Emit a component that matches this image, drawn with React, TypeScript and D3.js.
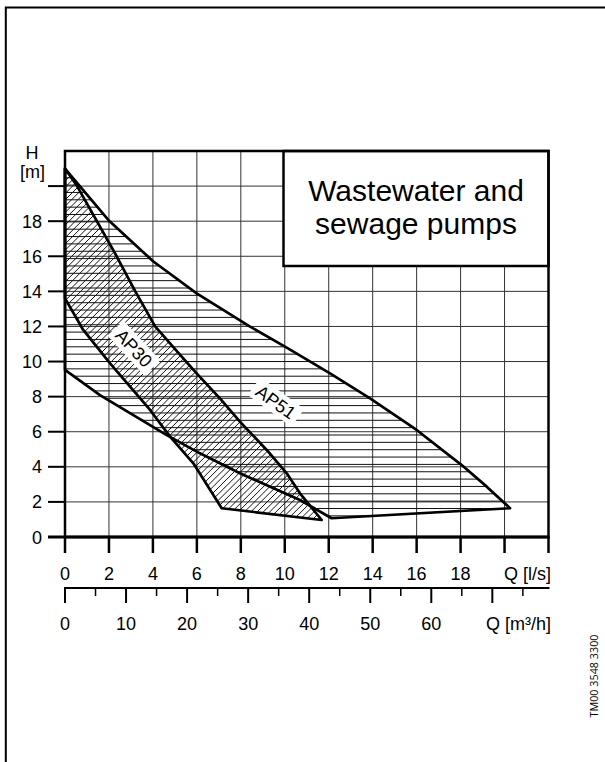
import React from "react";
import * as d3 from "d3";

// ---- data (Q in l/s, H in m) ----
const qTicks = [0, 2, 4, 6, 8, 10, 12, 14, 16, 18];
const qTickMarks = [0, 2, 4, 6, 8, 10, 12, 14, 16, 18, 20, 22];
const hTicks = [0, 2, 4, 6, 8, 10, 12, 14, 16, 18];
const hTickMarks = [0, 2, 4, 6, 8, 10, 12, 14, 16, 18, 20];
const m3hLabels = [0, 10, 20, 30, 40, 50, 60];
const m3hMajor = [0, 10, 20, 30, 40, 50, 60, 70];
const m3hMinor = [5, 15, 25, 35, 45, 55, 65, 75];
const gridQ = [2, 4, 6, 8, 10, 12, 14, 16, 18, 20];
const gridH = [2, 4, 6, 8, 10, 12, 14, 16, 18, 20];

const ap30Upper: [number, number][] = [
  [0, 21.0], [0.55, 20], [1.45, 18], [2.35, 16], [3.2, 14], [4.1, 12],
  [5.31, 10.28], [5.99, 9.33], [7.05, 7.9], [7.96, 6.57], [9.18, 4.96],
  [10.09, 3.63], [10.69, 2.49], [11.68, 0.97],
];
const ap30Lower: [number, number][] = [
  [0, 13.6], [0.83, 11.8], [1.44, 10.85], [2.05, 9.9], [3.87, 7.24],
  [4.78, 5.72], [5.84, 4.2], [7.13, 1.64],
];
const ap51Upper: [number, number][] = [
  [0, 21.0], [1.97, 18.07], [4.02, 15.7], [5.99, 13.89], [8.42, 11.99],
  [10.01, 10.85], [12.06, 9.33], [13.88, 7.9], [16.0, 6.1], [18.05, 4.1],
  [19.19, 2.87], [20.25, 1.64],
];
const ap51Lower: [number, number][] = [
  [0, 9.52], [1.59, 8.09], [4.63, 5.81], [6.14, 4.77], [7.96, 3.63],
  [10.69, 2.11], [12.13, 1.07],
];

const FONT = "'Liberation Sans', Arial, Helvetica, sans-serif";

export default function App() {
  const x = d3.scaleLinear().domain([0, 22]).range([65, 548.5]);
  const y = d3.scaleLinear().domain([0, 22]).range([537, 151]);
  const xm = d3.scaleLinear().domain([0, 79.2]).range([65, 548.5]);

  const line = d3
    .line<[number, number]>()
    .x((d) => x(d[0]))
    .y((d) => y(d[1]));

  const ap30Poly = [...ap30Upper, ...ap30Lower.slice().reverse()];
  const ap51Poly = [...ap51Upper, ...ap51Lower.slice().reverse()];
  const ap30Path = line(ap30Poly) + "Z";
  const ap51Path = line(ap51Poly) + "Z";

  const left = x(0), right = x(22), top = y(22), bottom = y(0);

  // horizontal hatch lines
  const hLines: number[] = [];
  for (let yy = 435 - 7.35 * 40; yy < bottom; yy += 7.35) {
    if (yy > top) hLines.push(yy);
  }
  // diagonal hatch lines "/"
  const dLines: number[] = [];
  for (let xx = left - 400; xx < right + 50; xx += 6.3) dLines.push(xx);

  return (
    <svg
      width={605}
      height={762}
      style={{ position: "absolute", left: 0, top: 0, background: "#fff" }}
      fontFamily={FONT}
    >
      <defs>
        <clipPath id="clip51">
          <path d={ap51Path} />
        </clipPath>
        <clipPath id="clip30">
          <path d={ap30Path} />
        </clipPath>
      </defs>

      {/* outer frame */}
      <path d="M5.8,762 L5.8,7.5 L605,7.5" fill="none" stroke="#000" strokeWidth={2} />

      {/* grid */}
      {gridQ.map((q) => (
        <line key={"gq" + q} x1={x(q)} x2={x(q)} y1={top} y2={bottom} stroke="#333" strokeWidth={1} />
      ))}
      {gridH.map((h) => (
        <line key={"gh" + h} x1={left} x2={right} y1={y(h)} y2={y(h)} stroke="#333" strokeWidth={1} />
      ))}

      {/* AP51 horizontal hatching */}
      <g clipPath="url(#clip51)">
        {hLines.map((yy, i) => (
          <line key={"h" + i} x1={left} x2={right} y1={yy} y2={yy} stroke="#111" strokeWidth={1} />
        ))}
      </g>
      {/* AP30 diagonal hatching */}
      <g clipPath="url(#clip30)">
        {dLines.map((xx, i) => (
          <line key={"d" + i} x1={xx} y1={bottom} x2={xx + (bottom - top)} y2={top} stroke="#111" strokeWidth={1} />
        ))}
      </g>

      {/* outlines */}
      <path d={ap51Path} fill="none" stroke="#000" strokeWidth={2.7} strokeLinejoin="round" />
      <path d={ap30Path} fill="none" stroke="#000" strokeWidth={2.7} strokeLinejoin="round" />

      {/* curve labels */}
      <g transform="translate(134,348) rotate(47)">
        <rect x={-27} y={-11} width={54} height={22} fill="#fff" />
        <text textAnchor="middle" y={6.5} fontSize={18}>AP30</text>
      </g>
      <g transform="translate(276,402) rotate(36)">
        <rect x={-27} y={-11} width={54} height={22} fill="#fff" />
        <text textAnchor="middle" y={6.5} fontSize={18}>AP51</text>
      </g>

      {/* title box */}
      <rect x={283.5} y={151} width={265} height={115} fill="#fff" stroke="#000" strokeWidth={2.5} />
      <text x={416} y={201} textAnchor="middle" fontSize={30}>Wastewater and</text>
      <text x={416} y={234} textAnchor="middle" fontSize={30}>sewage pumps</text>

      {/* plot frame */}
      <rect x={left} y={top} width={right - left} height={bottom - top} fill="none" stroke="#000" strokeWidth={2.5} />

      {/* y axis ticks & labels */}
      {hTickMarks.map((h) => (
        <line key={"yt" + h} x1={48} x2={left} y1={y(h)} y2={y(h)} stroke="#000" strokeWidth={2} />
      ))}
      {hTicks.map((h) => (
        <text key={"yl" + h} x={42} y={y(h) + 6.5} textAnchor="end" fontSize={18}>{h}</text>
      ))}
      <text x={32} y={158.5} textAnchor="middle" fontSize={18}>H</text>
      <text x={32.5} y={177.5} textAnchor="middle" fontSize={18}>[m]</text>

      {/* x axis (l/s) */}
      <line x1={48} x2={right + 1} y1={bottom} y2={bottom} stroke="#000" strokeWidth={3} />
      {qTickMarks.map((q) => (
        <line key={"xt" + q} x1={x(q)} x2={x(q)} y1={bottom} y2={553} stroke="#000" strokeWidth={2.5} />
      ))}
      {qTicks.map((q) => (
        <text key={"xl" + q} x={x(q)} y={579.5} textAnchor="middle" fontSize={18}>{q}</text>
      ))}
      <text x={551} y={579.5} textAnchor="end" fontSize={18}>Q [l/s]</text>

      {/* second x axis (m3/h) */}
      <line x1={xm(0) - 1} x2={right + 1} y1={588} y2={588} stroke="#000" strokeWidth={2} />
      {m3hMajor.map((v) => (
        <line key={"mt" + v} x1={xm(v)} x2={xm(v)} y1={588} y2={603} stroke="#000" strokeWidth={2} />
      ))}
      {m3hMinor.map((v) => (
        <line key={"mn" + v} x1={xm(v)} x2={xm(v)} y1={588} y2={596} stroke="#000" strokeWidth={1.5} />
      ))}
      {m3hLabels.map((v) => (
        <text key={"ml" + v} x={xm(v)} y={629.5} textAnchor="middle" fontSize={18}>{v}</text>
      ))}
      <text x={551} y={629.5} textAnchor="end" fontSize={18}>Q [m³/h]</text>

      {/* document code */}
      <text
        transform="translate(598.3,676) rotate(-90)"
        textAnchor="middle"
        fontSize={10.8}
        fontFamily="'Open Sans', 'Noto Sans', sans-serif"
      >
        TM00 3548 3300
      </text>
    </svg>
  );
}
